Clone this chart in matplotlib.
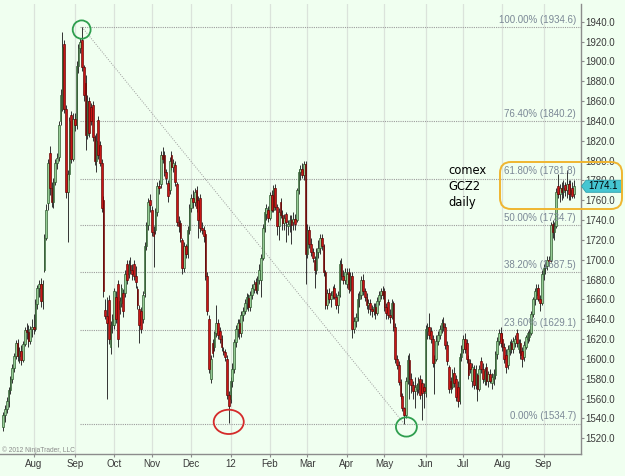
"""Recreate the NinjaTrader comex GCZ2 daily chart with Fibonacci retracement."""

import matplotlib
matplotlib.use("Agg")
import matplotlib.pyplot as plt
import numpy as np
import pandas as pd
from matplotlib.patches import Ellipse, FancyBboxPatch, Polygon
from matplotlib.transforms import blended_transform_factory

# daily OHLC, one line per month (Jul 2011 .. Sep 2012)
opens = [
    1531, 1543, 1549, 1558, 1569, 1580, 1591, 1603, 1616, 1603, 1608, 1599, 1615, 1629, 1627, 1618, 1630,
    1632, 1630, 1655, 1672, 1676, 1658, 1690, 1722, 1757, 1808, 1772, 1758, 1778, 1798, 1804, 1840, 1852, 1918, 1852, 1768, 1786, 1846, 1802,
    1842, 1836, 1895, 1914, 1922, 1894, 1878, 1826, 1860, 1854, 1856, 1824, 1800, 1841, 1816, 1798, 1760, 1649, 1643, 1659, 1612, 1634,
    1634, 1662, 1676, 1650, 1656, 1666, 1666, 1696, 1686, 1695, 1690, 1696, 1684, 1670, 1650, 1648, 1640, 1666, 1714, 1735, 1760,
    1750, 1728, 1730, 1748, 1774, 1776, 1806, 1806, 1788, 1777, 1770, 1806, 1794, 1796, 1776, 1738, 1737, 1720, 1692, 1714, 1706, 1730,
    1752, 1762, 1758, 1770, 1760, 1762, 1732, 1730, 1726, 1684, 1640, 1580, 1616, 1612, 1626, 1636, 1628, 1620, 1608, 1607, 1600, 1564,
    1560, 1578, 1590, 1617, 1630, 1636, 1626, 1644, 1648, 1656, 1661, 1652, 1664, 1670, 1678, 1669, 1680, 1680, 1702, 1732, 1746, 1750,
    1742, 1765, 1750, 1772, 1753, 1734, 1758, 1745, 1737, 1746, 1734, 1736, 1740, 1738, 1741, 1740, 1770, 1788, 1792, 1785, 1797,
    1706, 1730, 1716, 1708, 1700, 1690, 1708, 1712, 1722, 1714, 1688, 1654, 1666, 1660, 1664, 1672, 1662, 1654, 1664, 1696, 1684, 1680,
    1676, 1688, 1670, 1684, 1630, 1638, 1642, 1660, 1664, 1680, 1668, 1662, 1654, 1656, 1650, 1648, 1652, 1646, 1658, 1664, 1668,
    1668, 1652, 1657, 1644, 1642, 1656, 1632, 1600, 1594, 1577, 1563, 1550, 1543, 1578, 1599, 1580, 1574, 1568, 1570, 1570, 1580, 1576, 1572,
    1566, 1628, 1632, 1628, 1620, 1596, 1600, 1618, 1624, 1630, 1636, 1632, 1614, 1592, 1578, 1572, 1586, 1580, 1572, 1558, 1602,
    1610, 1620, 1616, 1600, 1596, 1578, 1590, 1574, 1584, 1570, 1598, 1590, 1578, 1592, 1578, 1585, 1576, 1580, 1584, 1605, 1618, 1626,
    1620, 1612, 1604, 1594, 1608, 1616, 1610, 1616, 1626, 1610, 1616, 1608, 1602, 1612, 1620, 1622, 1626, 1645, 1660, 1664, 1672, 1660, 1656,
    1686, 1692, 1694, 1700, 1700, 1736, 1728, 1734, 1774, 1766, 1772, 1768, 1775, 1770, 1776, 1766, 1772, 1766,
]
highs = [
    1546, 1554, 1562, 1572, 1583, 1595, 1606, 1619, 1620, 1612, 1614, 1618, 1632, 1636, 1634, 1633, 1640,
    1645, 1660, 1675, 1680, 1682, 1680, 1726, 1756, 1802, 1815, 1778, 1782, 1802, 1808, 1840, 1872, 1930, 1922, 1856, 1790, 1844, 1850, 1848,
    1848, 1900, 1918, 1924, 1934.6, 1896, 1886, 1866, 1864, 1858, 1860, 1826, 1828, 1845, 1820, 1802, 1764, 1660, 1662, 1664, 1638, 1645,
    1672, 1668, 1680, 1662, 1676, 1670, 1690, 1700, 1700, 1703, 1696, 1700, 1694, 1674, 1654, 1652, 1668, 1718, 1738, 1762, 1766,
    1754, 1734, 1752, 1778, 1780, 1810, 1814, 1810, 1792, 1780, 1804, 1810, 1802, 1800, 1778, 1744, 1740, 1722, 1718, 1716, 1734, 1756,
    1766, 1770, 1772, 1774, 1764, 1766, 1738, 1734, 1728, 1688, 1644, 1604, 1620, 1628, 1654, 1640, 1632, 1624, 1612, 1610, 1604, 1568,
    1582, 1596, 1620, 1634, 1640, 1640, 1648, 1652, 1660, 1666, 1665, 1668, 1676, 1680, 1682, 1684, 1696, 1706, 1736, 1752, 1756, 1754,
    1768, 1770, 1775, 1776, 1756, 1752, 1762, 1750, 1746, 1748, 1740, 1745, 1745, 1748, 1746, 1772, 1792, 1796, 1798, 1800, 1800,
    1736, 1734, 1722, 1712, 1704, 1712, 1720, 1726, 1726, 1716, 1690, 1670, 1672, 1668, 1674, 1676, 1666, 1668, 1700, 1702, 1690, 1692,
    1692, 1692, 1688, 1688, 1642, 1646, 1666, 1668, 1684, 1686, 1672, 1666, 1660, 1660, 1654, 1656, 1656, 1662, 1668, 1672, 1674,
    1672, 1656, 1660, 1650, 1660, 1658, 1636, 1604, 1598, 1580, 1566, 1552, 1582, 1604, 1606, 1586, 1578, 1582, 1576, 1582, 1584, 1580, 1576,
    1634, 1636, 1646, 1632, 1624, 1604, 1624, 1628, 1634, 1640, 1642, 1636, 1618, 1594, 1582, 1590, 1592, 1584, 1578, 1606, 1614,
    1624, 1626, 1620, 1604, 1600, 1596, 1594, 1594, 1586, 1594, 1602, 1596, 1592, 1596, 1588, 1590, 1586, 1590, 1608, 1622, 1630, 1632,
    1626, 1616, 1610, 1614, 1618, 1620, 1622, 1624, 1630, 1620, 1620, 1612, 1618, 1624, 1628, 1630, 1648, 1662, 1672, 1676, 1676, 1664, 1690,
    1696, 1698, 1704, 1704, 1738, 1740, 1738, 1772, 1786, 1776, 1778, 1780, 1778, 1790, 1780, 1780, 1778, 1780,
]
lows = [
    1527, 1536, 1545, 1552, 1565, 1576, 1587, 1600, 1598, 1596, 1594, 1597, 1613, 1620, 1612, 1615, 1622,
    1625, 1628, 1650, 1662, 1652, 1650, 1688, 1720, 1750, 1765, 1753, 1752, 1775, 1792, 1800, 1836, 1850, 1848, 1762, 1718, 1780, 1798, 1800,
    1830, 1832, 1888, 1908, 1890, 1860, 1811, 1822, 1824, 1836, 1820, 1796, 1788, 1802, 1795, 1748, 1662, 1640, 1560, 1615, 1605, 1626,
    1630, 1636, 1612, 1645, 1652, 1642, 1662, 1676, 1682, 1686, 1680, 1680, 1672, 1650, 1616, 1626, 1636, 1662, 1710, 1730, 1748,
    1724, 1693, 1726, 1744, 1766, 1772, 1798, 1784, 1776, 1758, 1766, 1790, 1788, 1774, 1734, 1728, 1718, 1686, 1688, 1702, 1702, 1726,
    1748, 1752, 1754, 1748, 1722, 1728, 1726, 1718, 1680, 1644, 1586, 1576, 1602, 1608, 1622, 1620, 1616, 1608, 1604, 1598, 1560, 1535,
    1556, 1572, 1586, 1612, 1622, 1620, 1622, 1638, 1645, 1650, 1648, 1648, 1660, 1666, 1666, 1665, 1676, 1662, 1700, 1728, 1740, 1738,
    1740, 1748, 1748, 1750, 1725, 1720, 1742, 1730, 1730, 1718, 1725, 1728, 1716, 1730, 1730, 1738, 1766, 1780, 1782, 1780, 1676,
    1702, 1712, 1704, 1698, 1672, 1686, 1702, 1706, 1710, 1684, 1650, 1650, 1656, 1652, 1660, 1660, 1650, 1646, 1662, 1680, 1676, 1676,
    1672, 1666, 1668, 1621, 1626, 1632, 1638, 1652, 1660, 1664, 1658, 1650, 1646, 1644, 1642, 1644, 1640, 1644, 1654, 1660, 1660,
    1648, 1640, 1640, 1636, 1640, 1628, 1596, 1590, 1574, 1560, 1547, 1534.7, 1540, 1575, 1560, 1566, 1560, 1550, 1564, 1566, 1560, 1538, 1550,
    1562, 1620, 1620, 1616, 1592, 1565, 1598, 1614, 1620, 1626, 1628, 1610, 1594, 1566, 1566, 1570, 1572, 1558, 1552, 1555, 1598,
    1606, 1606, 1596, 1580, 1586, 1572, 1570, 1570, 1558, 1568, 1586, 1576, 1574, 1574, 1572, 1576, 1570, 1574, 1580, 1600, 1614, 1612,
    1608, 1596, 1586, 1590, 1604, 1606, 1606, 1612, 1612, 1606, 1600, 1592, 1598, 1610, 1616, 1618, 1624, 1642, 1654, 1660, 1658, 1648, 1654,
    1680, 1686, 1690, 1694, 1698, 1722, 1720, 1732, 1762, 1758, 1760, 1762, 1764, 1762, 1760, 1760, 1762, 1762,
]
closes = [
    1543, 1549, 1558, 1569, 1580, 1591, 1603, 1616, 1603, 1608, 1599, 1615, 1629, 1627, 1618, 1630, 1632,
    1630, 1655, 1672, 1676, 1658, 1676, 1722, 1750, 1798, 1772, 1758, 1778, 1798, 1803, 1836, 1866, 1915, 1852, 1768, 1786, 1840, 1802, 1842,
    1836, 1895, 1914, 1920, 1894, 1866, 1826, 1860, 1828, 1840, 1824, 1800, 1820, 1806, 1798, 1752, 1668, 1643, 1636, 1620, 1634, 1640,
    1668, 1640, 1620, 1658, 1672, 1648, 1686, 1680, 1695, 1690, 1686, 1684, 1678, 1654, 1634, 1630, 1664, 1714, 1735, 1758, 1755,
    1728, 1724, 1748, 1774, 1772, 1806, 1802, 1788, 1782, 1764, 1800, 1794, 1798, 1778, 1738, 1734, 1722, 1692, 1714, 1706, 1730, 1752,
    1762, 1758, 1768, 1752, 1740, 1732, 1730, 1724, 1684, 1648, 1590, 1600, 1606, 1626, 1636, 1624, 1620, 1612, 1607, 1602, 1564, 1553,
    1578, 1590, 1617, 1630, 1636, 1626, 1644, 1648, 1656, 1662, 1652, 1664, 1672, 1676, 1669, 1680, 1690, 1702, 1732, 1748, 1752, 1742,
    1765, 1750, 1772, 1753, 1734, 1748, 1745, 1737, 1742, 1738, 1736, 1740, 1735, 1741, 1736, 1770, 1788, 1792, 1785, 1797, 1706,
    1730, 1716, 1708, 1702, 1690, 1708, 1712, 1722, 1714, 1688, 1654, 1666, 1660, 1664, 1668, 1662, 1654, 1664, 1696, 1684, 1680, 1688,
    1686, 1670, 1684, 1630, 1638, 1642, 1660, 1664, 1680, 1668, 1662, 1654, 1656, 1650, 1648, 1652, 1646, 1658, 1664, 1668, 1664,
    1652, 1646, 1644, 1642, 1656, 1632, 1600, 1594, 1577, 1563, 1550, 1543, 1578, 1599, 1580, 1574, 1568, 1572, 1574, 1578, 1564, 1566, 1568,
    1630, 1632, 1624, 1620, 1596, 1600, 1618, 1624, 1630, 1636, 1632, 1614, 1598, 1570, 1572, 1586, 1576, 1562, 1558, 1602, 1610,
    1620, 1610, 1600, 1584, 1590, 1592, 1574, 1590, 1570, 1590, 1590, 1580, 1588, 1578, 1585, 1578, 1582, 1585, 1605, 1618, 1626, 1616,
    1612, 1600, 1592, 1610, 1614, 1610, 1618, 1620, 1616, 1616, 1604, 1600, 1614, 1622, 1626, 1627, 1645, 1660, 1668, 1672, 1660, 1656, 1686,
    1692, 1694, 1700, 1699, 1735, 1728, 1734, 1768, 1766, 1772, 1768, 1772, 1770, 1776, 1766, 1770, 1764, 1774.1,
]
first_day = "2011-07-07"

# Fibonacci retracement from the Sep 2011 high to the May 2012 low
swing_high = 1934.6
swing_low = 1534.7
high_bar = 44
low_bar = 224
fib_ratios = [1.0, 0.764, 0.618, 0.5, 0.382, 0.236, 0.0]
y_ticks = np.arange(1520, 1941, 20)

BG = "#F0FFF0"
plt.rcParams["font.family"] = ["Liberation Sans", "DejaVu Sans"]

o, h, l, c = (np.asarray(v, dtype=float) for v in (opens, highs, lows, closes))
x = np.arange(len(c))
dates = pd.bdate_range(first_day, periods=len(c))
month_start = [i for i in range(1, len(dates)) if dates[i].month != dates[i - 1].month]
month_labels = [dates[i].strftime("%y") if dates[i].month == 1 else dates[i].strftime("%b")
                for i in month_start]

fig = plt.figure(figsize=(6.25, 4.76), dpi=100, facecolor=BG)
ax = fig.add_axes([0, 22 / 476, 580.5 / 625, 450 / 476], facecolor=BG)
ax.set_xlim(-1.84, 322.6)
ax.set_ylim(1504.1, 1957.9)

for pos in month_start:
    ax.axvline(pos, color="#dbe3db", lw=0.9, zorder=0)

# candles
up = c >= o
ax.vlines(x, l, h, color="#333333", lw=0.7, zorder=2)
ax.bar(x[up], (c - o)[up], bottom=o[up], width=0.92, color="#94cc94",
       edgecolor="#244f24", linewidth=0.45, zorder=3)
ax.bar(x[~up], (o - c)[~up], bottom=c[~up], width=0.92, color="#c91616",
       edgecolor="#5c0000", linewidth=0.45, zorder=3)

# fib levels
x_right = ax.get_xlim()[1]
for r in fib_ratios:
    level = swing_low + r * (swing_high - swing_low)
    ax.hlines(level, high_bar - 1, x_right, colors="#9c9c9c", lw=0.8,
              linestyles=(0, (1, 1)), zorder=1)
    ax.text(320.1, level + 2.2, f"{r * 100:.2f}% ({level + 1e-6:.1f})", ha="right",
            va="bottom", fontsize=7, color="#7b8896", zorder=4)
ax.plot([high_bar, low_bar], [swing_high, swing_low], color="#9c9c9c", lw=0.7,
        ls=(0, (1, 1.5)), zorder=1)

# circled turning points
ax.add_patch(Ellipse((high_bar - 0.2, swing_high - 2.5), 10, 18.5, fill=False,
                     ec="#2e9e4e", lw=1.3, zorder=5))
ax.add_patch(Ellipse((126, l[126] + 1.5), 16.8, 24.5, fill=False,
                     ec="#d42a2a", lw=1.3, zorder=5))
ax.add_patch(Ellipse((low_bar + 1.3, swing_low - 3.3), 11.7, 19.5, fill=False,
                     ec="#2e9e4e", lw=1.3, zorder=5))

# axes styling
for side in ("top", "left"):
    ax.spines[side].set_visible(False)
for side in ("right", "bottom"):
    ax.spines[side].set_color("#8c8c8c")
    ax.spines[side].set_linewidth(1.0)
ax.yaxis.tick_right()
ax.set_yticks(y_ticks)
ax.set_yticklabels([f"{v:.1f}" for v in y_ticks])
ax.set_xticks(month_start)
ax.set_xticklabels(month_labels)
ax.tick_params(axis="both", direction="out", length=2.2, width=0.8, color="#8c8c8c",
               labelsize=7, labelcolor="#3a3a3a")
ax.tick_params(axis="y", pad=1.5)
ax.tick_params(axis="x", pad=1.5)

# last price marker
last = c[-1]
mark_tr = blended_transform_factory(fig.dpi_scale_trans, ax.transData)
ax.add_patch(Polygon([(5.815, last), (5.86, last + 6.1), (6.22, last + 6.1),
                      (6.22, last - 6.1), (5.86, last - 6.1)], closed=True,
                     transform=mark_tr, fc="#45c6d2", ec="#2f9fab", lw=0.6,
                     clip_on=False, zorder=6))
ax.text(6.035, last, f"{last:.1f}", transform=mark_tr, ha="center", va="center",
        fontsize=7, color="black", clip_on=False, zorder=7)

# annotation box
pad = 0.11
fig.add_artist(FancyBboxPatch((5.00 + pad, 2.67 + pad), 1.22 - 2 * pad, 0.47 - 2 * pad,
                              boxstyle=f"round,pad={pad}", transform=fig.dpi_scale_trans,
                              fill=False, ec="#efb530", lw=1.4))
fig.text(448 / 625, 1 - 164 / 476, "comex\nGCZ2\ndaily", ha="left", va="top",
         fontsize=8.3, family="DejaVu Sans", linespacing=1.3, color="black")

fig.text(2 / 625, 1 - 450.5 / 476, "\u00a9 2012 NinjaTrader, LLC", ha="left",
         va="center", fontsize=4.8, color="#8a8a8a")

fig.savefig("out.png", dpi=100, facecolor=BG)
